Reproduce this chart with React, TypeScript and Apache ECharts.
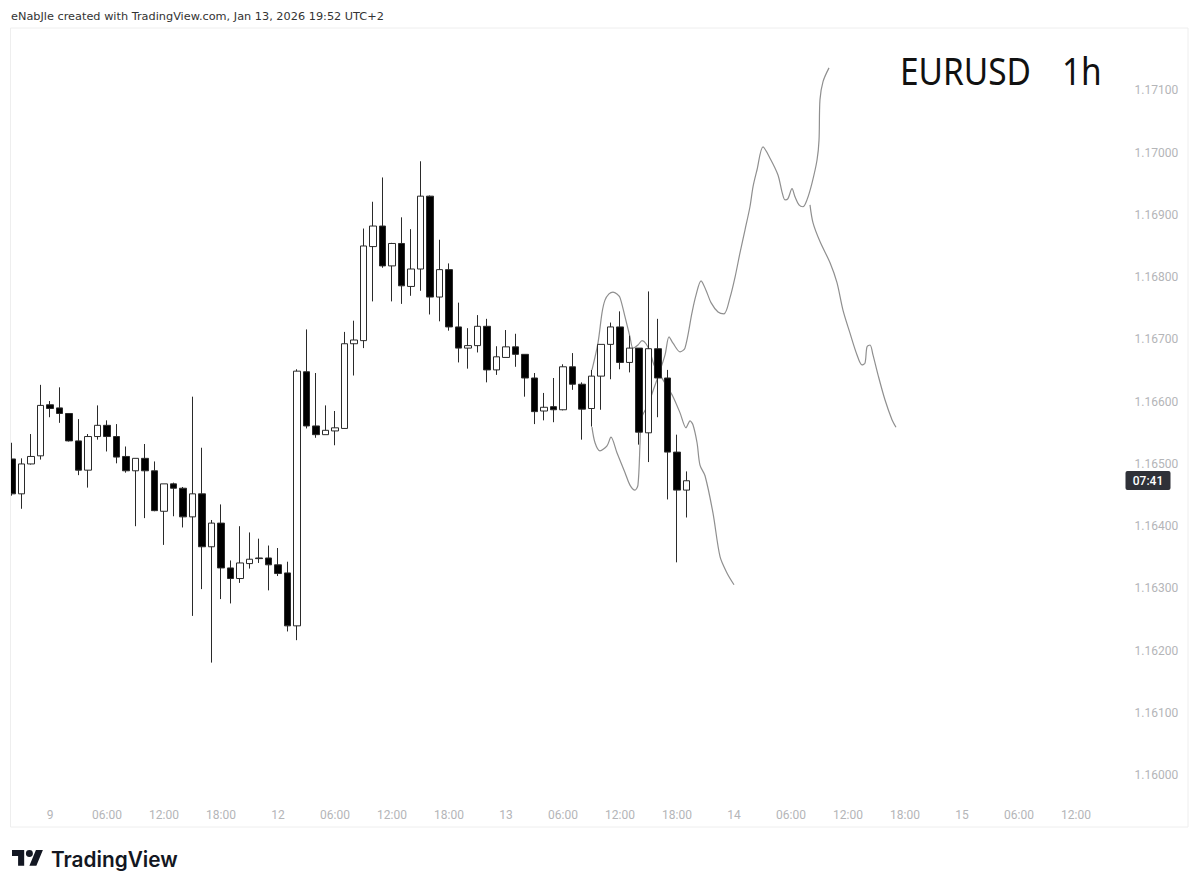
import React, { useEffect, useRef } from "react";
import * as echarts from "echarts";

const opens = [1.16508,1.16452,1.165,1.16513,1.16595,1.1659,1.16581,1.16537,1.1649,1.16544,1.16562,1.16544,1.16512,1.16489,1.16509,1.16489,1.16424,1.16468,1.16461,1.16415,1.16452,1.16367,1.16405,1.16333,1.16316,1.1634,1.16349,1.16349,1.16338,1.16325,1.1624,1.16648,1.16561,1.16547,1.16553,1.16557,1.16693,1.16698,1.16849,1.16882,1.16818,1.16854,1.16785,1.16813,1.1693,1.16768,1.16812,1.1672,1.16686,1.1669,1.16721,1.16651,1.16671,1.16688,1.16676,1.16638,1.16585,1.16592,1.16587,1.16656,1.16628,1.16589,1.16641,1.16692,1.1672,1.16663,1.16686,1.1655,1.16685,1.16638,1.16519,1.16458];
const closes = [1.16452,1.165,1.16512,1.16594,1.16589,1.16581,1.16537,1.1649,1.16544,1.16562,1.16544,1.16511,1.16489,1.16509,1.16489,1.16425,1.16468,1.16461,1.16415,1.16452,1.16367,1.16405,1.16333,1.16316,1.16341,1.16347,1.16348,1.16338,1.16324,1.1624,1.16649,1.16561,1.16547,1.16554,1.16558,1.16693,1.16699,1.1685,1.16882,1.16818,1.16854,1.16786,1.16813,1.1693,1.16768,1.16812,1.1672,1.16686,1.1669,1.16721,1.16651,1.16672,1.16688,1.16676,1.16638,1.16584,1.16591,1.16587,1.16656,1.16628,1.16588,1.16641,1.16692,1.1672,1.16663,1.16686,1.16551,1.16685,1.16638,1.16519,1.16458,1.16473];
const lows = [1.16449,1.16428,1.16499,1.16507,1.16575,1.16566,1.16536,1.16482,1.16462,1.16539,1.1652,1.16501,1.16486,1.164,1.16413,1.16424,1.1637,1.16416,1.16398,1.16256,1.16299,1.16181,1.16283,1.16276,1.16309,1.16332,1.16341,1.16297,1.1632,1.16231,1.16217,1.16557,1.16542,1.16547,1.1653,1.16557,1.16642,1.16686,1.16761,1.16815,1.16761,1.16757,1.1677,1.16778,1.1674,1.16729,1.16714,1.16663,1.16653,1.16679,1.16631,1.16643,1.16671,1.16656,1.16608,1.16564,1.1657,1.16567,1.16586,1.16619,1.16539,1.1656,1.16587,1.16636,1.16652,1.16647,1.16531,1.16503,1.16575,1.16443,1.16342,1.16414];
const highs = [1.16534,1.16509,1.16548,1.16627,1.16601,1.16623,1.16581,1.16572,1.16548,1.16594,1.1657,1.16564,1.16528,1.16509,1.16532,1.16504,1.16468,1.1647,1.16463,1.16608,1.16526,1.1641,1.16435,1.16345,1.164,1.1639,1.1638,1.16369,1.16365,1.16343,1.16652,1.16716,1.16646,1.16594,1.16585,1.16712,1.1673,1.16878,1.16921,1.1696,1.16855,1.16896,1.16877,1.16986,1.16931,1.1686,1.16822,1.16759,1.16718,1.16739,1.16733,1.16689,1.16715,1.16709,1.16676,1.16646,1.16614,1.16638,1.1666,1.16678,1.16631,1.16651,1.16692,1.16727,1.16745,1.16706,1.16686,1.16777,1.16733,1.16651,1.16547,1.16488];

const slotCount = 124;
const tickLabels: Record<number, string> = {
  4: "9", 10: "06:00", 16: "12:00", 22: "18:00", 28: "12", 34: "06:00", 40: "12:00", 46: "18:00",
  52: "13", 58: "06:00", 64: "12:00", 70: "18:00", 76: "14", 82: "06:00", 88: "12:00", 94: "18:00",
  100: "15", 106: "06:00", 112: "12:00",
};
const categories = Array.from({ length: slotCount }, (_, i) => tickLabels[i] ?? "");

const downPathA: [number, number][] = [
  [61.05,1.16651],[61.68,1.16694],[62.11,1.16743],[62.42,1.16763],[62.84,1.16773],[63.26,1.16776],[63.68,1.16773],[64,1.16767],
  [64.53,1.16736],[65.05,1.16704],[65.37,1.16686],[65.89,1.16691],[66.32,1.16698],[66.74,1.16693],[67.16,1.1668],[67.58,1.16659],
  [68.21,1.16643],[68.84,1.16627],[69.58,1.16608],[70.32,1.16582],[70.95,1.16558],[71.16,1.16564],[71.37,1.16569],[71.68,1.16563],
  [72.11,1.16534],[72.42,1.16498],[72.95,1.16481],[73.79,1.16421],[74.53,1.16351],[75.26,1.16325],[76,1.16306],
];
const upPath: [number, number][] = [
  [61.05,1.16559],[61.37,1.16534],[61.89,1.16521],[62.63,1.16529],[63.05,1.16543],[63.68,1.16518],[64.53,1.16486],[65.05,1.16466],
  [65.58,1.16458],[65.89,1.16466],[66.11,1.16534],[66.21,1.16571],[66.95,1.16595],[67.58,1.16622],[68,1.1664],[68.74,1.16675],
  [69.16,1.16704],[69.58,1.16694],[70.32,1.1668],[70.84,1.16686],[71.58,1.16743],[72,1.16771],[72.53,1.16794],[73.05,1.16779],
  [73.58,1.16759],[74.32,1.16744],[74.95,1.16741],[75.58,1.16767],[76.11,1.168],[76.63,1.16839],[77.16,1.16876],[77.68,1.16913],
  [78,1.16945],[78.42,1.16972],[79.05,1.17009],[79.79,1.16991],[80.63,1.16964],[81.05,1.16937],[81.37,1.16924],[81.68,1.16926],
  [82.11,1.16942],[82.42,1.16929],[82.84,1.16916],[83.26,1.16913],[83.68,1.16924],[84.21,1.16951],[84.74,1.16988],[84.95,1.1702],
  [85.05,1.17085],[85.37,1.17114],[86,1.17136],
];
const downPathB: [number, number][] = [
  [84,1.16916],[84.32,1.16887],[85.05,1.16857],[86.11,1.16823],[86.84,1.16791],[87.47,1.16747],[88.21,1.1671],[88.95,1.16675],
  [89.47,1.16659],[89.79,1.16662],[90,1.16688],[90.32,1.16691],[90.63,1.16675],[91.16,1.16643],[91.89,1.16603],[92.63,1.16571],[93.05,1.16559],
];

const headerText = "eNabJle created with TradingView.com, Jan 13, 2026 19:52 UTC+2";
const titleSymbol = "EURUSD";
const titleFrame = "1h";
const countdown = "07:41";
const brandName = "TradingView";

echarts.graphic.registerShape(
  "tvlogo",
  echarts.graphic.extendPath(
    "M14 22H7V11H0V4h14v18zM28 22h-8l7.5-18h8L28 22zM24 8a4 4 0 1 1-8 0a4 4 0 1 1 8 0z",
    {}
  )
);

const FONT = "Roboto, sans-serif";
const LINE = "#8f8f8f";
const AXIS_TEXT = "#b4b5b8";

function pathSeries(name: string, data: [number, number][]) {
  return {
    name,
    type: "line",
    xAxisIndex: 1,
    yAxisIndex: 0,
    data,
    symbol: "none",
    smooth: 0.3,
    lineStyle: { color: LINE, width: 1.2 },
    z: 1,
    clip: false,
  };
}

export default function App() {
  const ref = useRef<HTMLDivElement>(null);
  useEffect(() => {
    const chart = echarts.init(ref.current!, null, { renderer: "svg" });
    chart.setOption({
      animation: false,
      backgroundColor: "#ffffff",
      grid: { left: 7.25, top: 28, width: 1178, height: 809.6, containLabel: false },
      xAxis: [
        {
          type: "category",
          data: categories,
          boundaryGap: true,
          axisLine: { show: false },
          axisTick: { show: false },
          splitLine: { show: false },
          axisLabel: {
            inside: true,
            margin: 17,
            interval: (i: number) => !!tickLabels[i],
            color: AXIS_TEXT,
            fontFamily: FONT,
            fontSize: 12,
          },
        },
        { type: "value", min: -0.5, max: slotCount - 0.5, show: false },
      ],
      yAxis: [
        {
          type: "value",
          position: "right",
          min: 1.159,
          max: 1.172,
          interval: 0.001,
          axisLine: { show: false },
          axisTick: { show: false },
          splitLine: { show: false },
          axisLabel: {
            inside: true,
            margin: 7,
            showMinLabel: false,
            showMaxLabel: false,
            color: AXIS_TEXT,
            fontFamily: FONT,
            fontSize: 12,
            formatter: (v: number) => v.toFixed(5),
          },
        },
      ],
      series: [
        pathSeries("path-a", downPathA),
        pathSeries("path-up", upPath),
        pathSeries("path-b", downPathB),
        {
          type: "candlestick",
          xAxisIndex: 0,
          yAxisIndex: 0,
          barWidth: 7,
          z: 3,
          data: opens.map((o, i) => [o, closes[i], lows[i], highs[i]]),
          itemStyle: {
            color: "#ffffff",
            color0: "#000000",
            borderColor: "#2a2a2a",
            borderColor0: "#2a2a2a",
            borderWidth: 1,
          },
        },
      ],
      graphic: [
        { type: "rect", z: 100, silent: true, shape: { x: 0, y: 28, width: 10.5, height: 810 }, style: { fill: "#ffffff" } },
        { type: "rect", z: 101, silent: true, shape: { x: 10.5, y: 28, width: 1177.5, height: 799 }, style: { fill: "none", stroke: "#eeeeee", lineWidth: 1 } },
        { type: "text", z: 101, x: 11, y: 16, style: { text: headerText, fontFamily: "'DejaVu Sans', sans-serif", fontSize: 11.3, fill: "#333333", verticalAlign: "middle" } },
        { type: "text", z: 101, x: 900, y: 70.5, scaleX: 0.88, style: { text: titleSymbol, fontFamily: "'Noto Sans', sans-serif", fontSize: 38, fill: "#111111", verticalAlign: "middle" } },
        { type: "text", z: 101, x: 1062, y: 70.5, scaleX: 0.88, style: { text: titleFrame, fontFamily: "'Noto Sans', sans-serif", fontSize: 38, fill: "#111111", verticalAlign: "middle" } },
        { type: "rect", z: 101, shape: { x: 1125.5, y: 471, width: 45, height: 19, r: 2 }, style: { fill: "#2f3138" } },
        { type: "text", z: 102, x: 1148, y: 480.5, style: { text: countdown, fontFamily: FONT, fontSize: 12, fontWeight: 500, fill: "#ffffff", align: "center", verticalAlign: "middle" } },
        { type: "tvlogo", z: 101, x: 12, y: 846.5, scaleX: 0.87, scaleY: 0.87, style: { fill: "#131722" } },
        { type: "text", z: 101, x: 51, y: 859, style: { text: brandName, fontFamily: "Inter, sans-serif", fontSize: 20.8, fontWeight: 600, fill: "#131722", verticalAlign: "middle" } },
      ],
    });
    return () => chart.dispose();
  }, []);
  return <div ref={ref} style={{ width: 1200, height: 890, position: "absolute", left: 0, top: 0 }} />;
}
